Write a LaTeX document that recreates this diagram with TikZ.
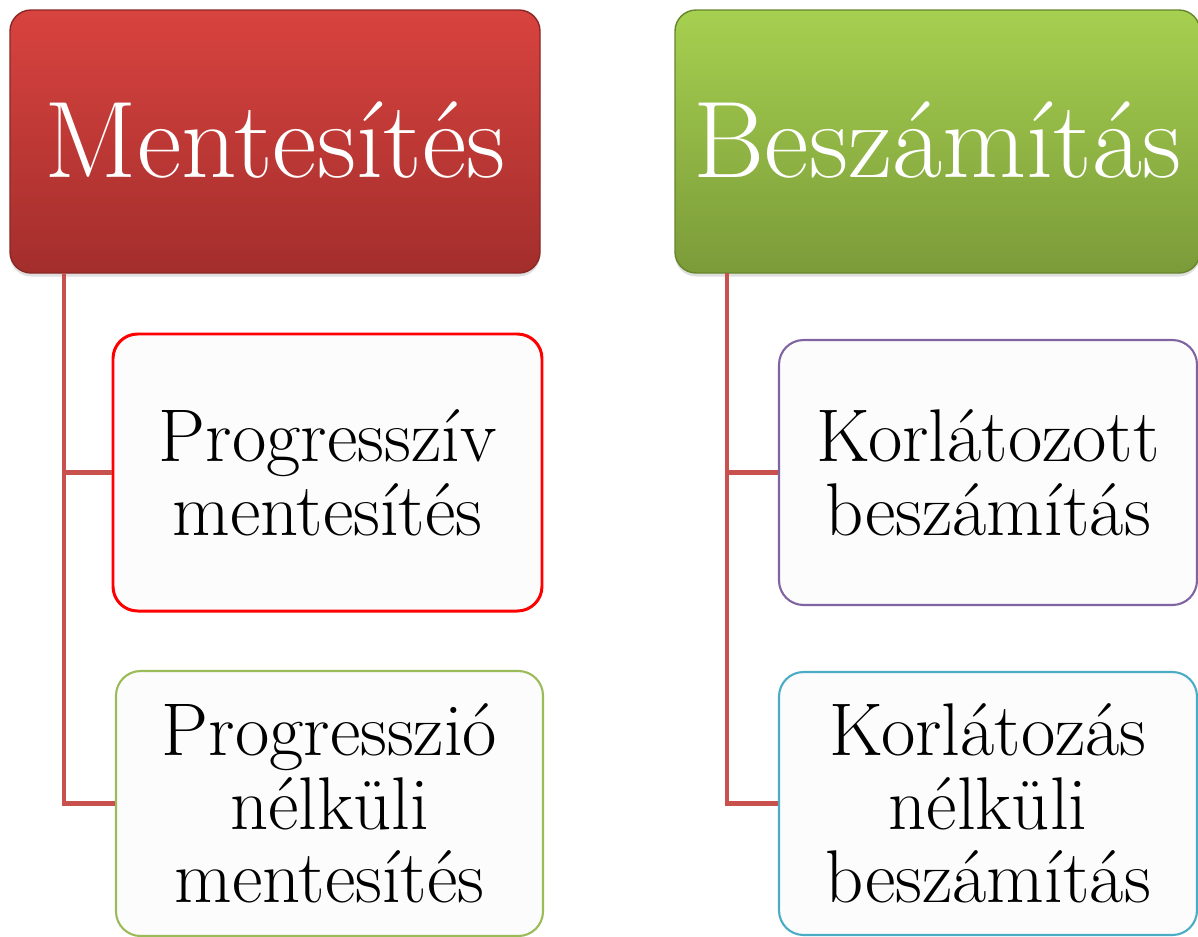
\documentclass[tikz,border=0pt]{standalone}
\usetikzlibrary{shadows}
\definecolor{redtop}{HTML}{D8433F}
\definecolor{redbot}{HTML}{A32E2C}
\definecolor{redline}{HTML}{8A2826}
\definecolor{greentop}{HTML}{A6D050}
\definecolor{greenbot}{HTML}{7B9B39}
\definecolor{greenline}{HTML}{67862C}
\definecolor{connred}{HTML}{C8504D}
\definecolor{boxfill}{HTML}{FCFCFC}
\definecolor{olive}{HTML}{9BBB59}
\definecolor{purp}{HTML}{8064A2}
\definecolor{teal}{HTML}{4BACC6}
\begin{document}
\begin{tikzpicture}[x=0.02cm, y=-0.02cm,
    head/.style={rounded corners=12pt, draw=#1line, line width=0.8pt,
        top color=#1top, bottom color=#1bot, text=white,
        minimum height=263*0.02cm, inner sep=0pt, text depth=0.18em,
        drop shadow={opacity=0.25, shadow xshift=0pt, shadow yshift=-2pt},
        font=\fontsize{62}{66}\selectfont},
    sub/.style={rounded corners=14pt, draw=#1, fill=boxfill, line width=1.2pt,
        align=center, inner sep=0pt,
        font=\fontsize{42.5}{42}\selectfont},
    conn/.style={draw=connred, line width=2.8pt}]
    \useasboundingbox (0,0) rectangle (1198,937);
    % felső dobozok
    \node[head=red, minimum width=530*0.02cm] (mentes) at (275,141.5) {Mentesítés};
    \node[head=green, minimum width=525*0.02cm] (besz) at (937.5,141.5) {Beszámítás};
    % ágak
    \coordinate (tL) at (64,273);
    \coordinate (tR) at (727,273);
    \node[sub=red, line width=1.7pt, minimum width=429*0.02cm, minimum height=277*0.02cm]
        (prog) at (327.5,472.5) {Progresszív\\mentesítés};
    \node[sub=olive, minimum width=427*0.02cm, minimum height=265*0.02cm]
        (nprog) at (329.5,803.5) {Progresszió\\nélküli\\mentesítés};
    \node[sub=purp, minimum width=418*0.02cm, minimum height=265*0.02cm]
        (korl) at (988,472.5) {Korlátozott\\beszámítás};
    \node[sub=teal, minimum width=418*0.02cm, minimum height=263*0.02cm]
        (nkorl) at (988,803.5) {Korlátozás\\nélküli\\beszámítás};
    % vonalak
    \draw[conn] (tL) |- (nprog.west);
    \draw[conn] (tL) |- (prog.west);
    \draw[conn] (tR) |- (nkorl.west);
    \draw[conn] (tR) |- (korl.west);
\end{tikzpicture}
\end{document}
